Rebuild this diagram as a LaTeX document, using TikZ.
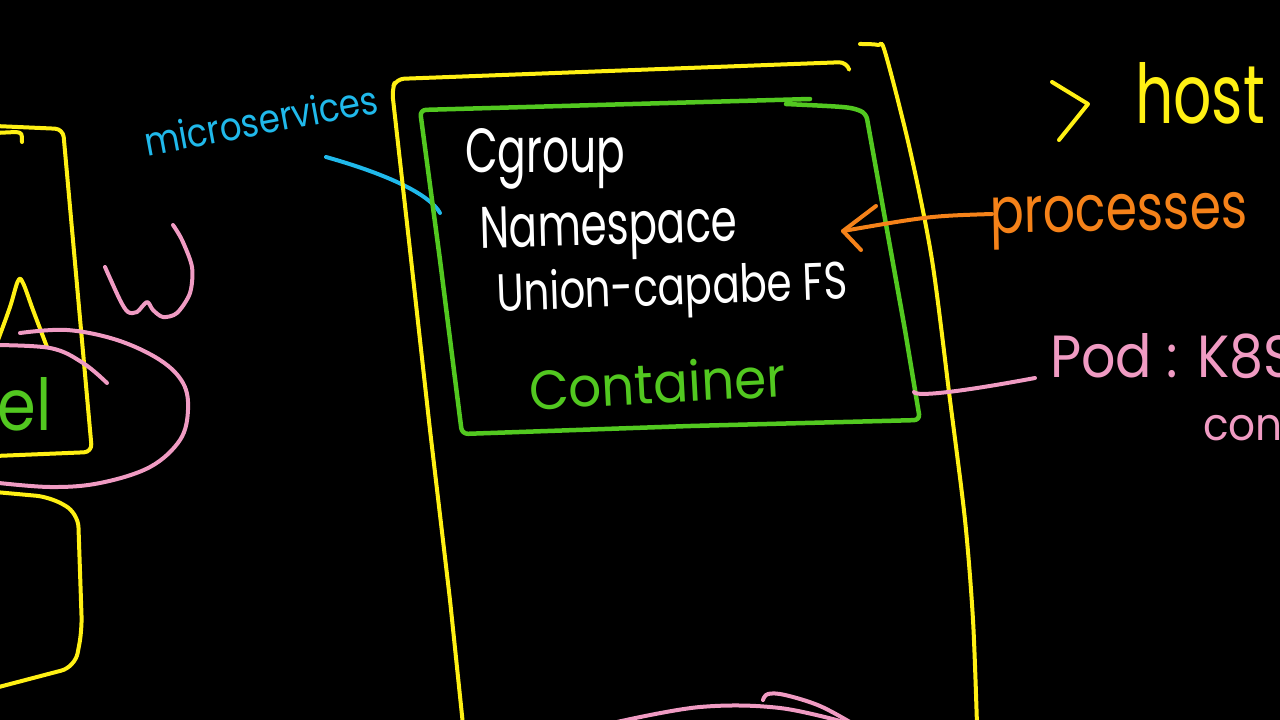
\documentclass[tikz,border=0pt]{standalone}
\usepackage{fontspec}
\setmainfont{Poppins}
\usepackage{graphicx}
\definecolor{yel}{RGB}{255,240,20}
\definecolor{grn}{RGB}{82,200,32}
\definecolor{cyn}{RGB}{32,185,235}
\definecolor{org}{RGB}{245,130,25}
\definecolor{pnk}{RGB}{240,155,195}
\tikzset{
  pen/.style={line width=4pt, line cap=round, line join=round},
  yelpen/.style={pen, draw=yel},
  grnpen/.style={pen, draw=grn, line width=4.5pt},
  cynpen/.style={pen, draw=cyn},
  orgpen/.style={pen, draw=org},
  pnkpen/.style={pen, draw=pnk},
  hand/.style={inner sep=0pt, outer sep=0pt, anchor=base west},
}
\begin{document}
\begin{tikzpicture}[x=1pt,y=-1pt]
\fill[black] (0,0) rectangle (1280,720);
\useasboundingbox (0,0) rectangle (1280,720);
\clip (0,0) rectangle (1280,720);

% ---------- left partial drawing ----------
\draw[yelpen, rounded corners=8pt] (-5,126) -- (63,129) -- (92,452) -- (-5,456);
\draw[yelpen] (-5,133) -- (16,132) .. controls (22,133) .. (22,142);
\draw[yelpen] plot[smooth, tension=0.6] coordinates {(-2,340) (10,307) (18,281) (23,283) (33,310) (47,347)};
\node[hand, text=grn] (kernel) at (-2,430) {\resizebox{54pt}{53pt}{el}};
\draw[pnkpen] plot[smooth, tension=0.6] coordinates {(20,333) (67,330) (117,340) (160,360) (183,383) (188,410) (180,440) (150,467) (100,483) (50,487) (-10,482)};
\draw[pnkpen] plot[smooth, tension=0.6] coordinates {(-10,345) (50,348) (83,363) (107,383)};
\draw[pnkpen] plot[smooth, tension=0.5] coordinates {(173,225) (182,240) (192,267) (190,293) (177,313) (163,317) (153,310) (147,302) (137,312) (128,312) (120,300) (105,267)};
\draw[yelpen, rounded corners=14pt] (-5,492) -- (50,497) -- (78,513) -- (82,630) -- (75,667) -- (-5,688);

% ---------- microservices ----------
\node[hand, text=cyn, rotate=10.5] (micro) at (147,156) {\resizebox{237pt}{30pt}{microservices}};
\coordinate (microL) at (326,157);
\coordinate (gboxL) at (440,213);
\draw[cynpen] (microL) .. controls (390,175) and (430,195) .. (gboxL);

% ---------- big yellow frame ----------
\draw[yelpen, rounded corners=8pt] (849,69) -- (847,62) -- (396,79) -- (392,90) -- (410,250) -- (430,430) -- (450,600) -- (463,725);
\draw[yelpen] plot[smooth, tension=0.5] coordinates {(860,44) (878,45) (885,52) (910,150) (932,260) (950,400) (965,520) (973,620) (977,725)};

% ---------- green container box ----------
\draw[grnpen, rounded corners=6pt] (810,99) -- (420,110) -- (440,260) -- (462,434) -- (690,426) -- (920,420) -- (905,330) -- (866,113) .. controls (850,107) .. (786,104);

\node[hand, text=white] (cgroup) at (465,172) {\resizebox{160pt}{44pt}{Cgroup}};
\node[hand, text=white, rotate=1.5] (namespace) at (480,248) {\resizebox{258pt}{41pt}{Namespace}};
\node[hand, text=white, rotate=2] (unionfs) at (497,311) {\resizebox{351pt}{40pt}{Union-capabe FS}};
\node[hand, text=grn, rotate=3] (container) at (530,410) {\resizebox{257pt}{42pt}{Container}};

% ---------- right side labels ----------
\draw[yelpen] (1052,82) -- (1088,104) -- (1059,140);
\node[hand, text=yel] (host) at (1135,123) {\resizebox{130pt}{61pt}{host}};

\node[hand, text=org, rotate=1] (processes) at (990,233) {\resizebox{258pt}{36pt}{processes}};
\coordinate (procL) at (992,214);
\coordinate (arrtip) at (843,231);
\draw[orgpen] (procL) .. controls (930,216) .. (arrtip);
\draw[orgpen] (876,206) -- (arrtip) -- (861,250);

\node[hand, text=pnk] (pod) at (1050,377) {\resizebox{245pt}{44pt}{Pod : K8S}};
\node[hand, text=pnk] (podcont) at (1203,440) {\resizebox{95pt}{31pt}{cont}};
\coordinate (gboxR) at (914,392);
\coordinate (podL) at (1035,378);
\draw[pnkpen] (gboxR) .. controls (916,397) and (960,392) .. (podL);

% ---------- bottom pink strokes ----------
\draw[pnkpen] plot[smooth, tension=0.6] coordinates {(617,722) (700,707) (780,708) (855,725)};
\draw[pnkpen] plot[smooth, tension=0.6] coordinates {(763,700) (768,694) (785,695) (820,706) (855,725)};
\end{tikzpicture}
\end{document}
